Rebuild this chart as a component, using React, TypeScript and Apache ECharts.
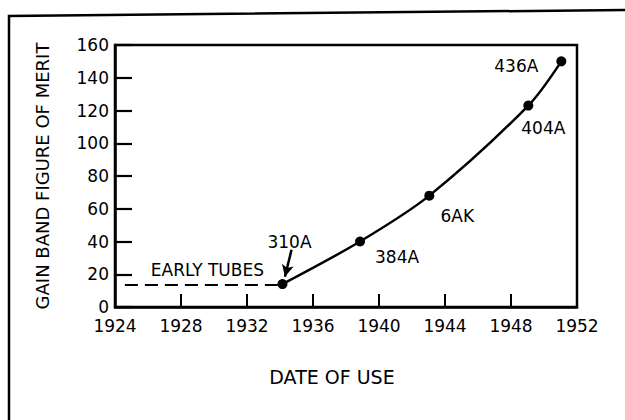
import React, { useEffect, useRef } from "react";
import * as echarts from "echarts";

const years = [1934.15, 1938.85, 1943.05, 1949.05, 1951.05];
const gainBand = [14, 40, 68, 123, 150];
const tubeNames = ["310A", "384A", "6AK", "404A", "436A"];
const labelOffsets: [number, number][] = [
  [7, -42],
  [37, 15],
  [28, 20],
  [15, 22],
  [-45, 5],
];
const earlyYears = [1924.6, 1934.0];
const earlyValue = 13.5;
const earlyLabelPos = [1929.6, 22.6];
const arrowFrom = [1934.7, 35];
const arrowTo = [1934.3, 18.5];

const FONT = "DejaVu Sans";

export default function App() {
  const ref = useRef<HTMLDivElement>(null);
  useEffect(() => {
    const chart = echarts.init(ref.current!, null, { renderer: "svg" });
    chart.setOption({
      animation: false,
      backgroundColor: "#ffffff",
      grid: {
        left: 115,
        right: 48,
        top: 45,
        bottom: 113,
        show: true,
        borderColor: "#000",
        borderWidth: 2.5,
      },
      xAxis: {
        type: "value",
        min: 1924,
        max: 1952,
        interval: 4,
        name: "DATE OF USE",
        nameLocation: "middle",
        nameGap: 60,
        nameTextStyle: {
          fontFamily: FONT,
          fontSize: 19,
          color: "#000",
          padding: [0, 28, 0, 0],
        },
        axisLine: { show: true, lineStyle: { color: "#000", width: 2.5 } },
        axisTick: { show: true, inside: true, length: 13, lineStyle: { color: "#000", width: 2 } },
        axisLabel: {
          fontFamily: FONT,
          fontSize: 17,
          color: "#000",
          margin: 11,
          lineHeight: 16,
          formatter: (v: number) => String(v),
        },
        splitLine: { show: false },
      },
      yAxis: {
        type: "value",
        min: 0,
        max: 160,
        interval: 20,
        name: "GAIN BAND FIGURE OF MERIT",
        nameLocation: "middle",
        nameRotate: 90,
        nameGap: 64,
        nameTextStyle: { fontFamily: FONT, fontSize: 18, color: "#000" },
        axisLine: { show: true, lineStyle: { color: "#000", width: 2.5 } },
        axisTick: { show: true, inside: true, length: 17, lineStyle: { color: "#000", width: 2.2 } },
        axisLabel: {
          fontFamily: FONT,
          fontSize: 17,
          color: "#000",
          margin: 6,
          lineHeight: 13,
          padding: [0, 0, 6, 0],
        },
        splitLine: { show: false },
      },
      graphic: [
        {
          type: "polyline",
          shape: { points: [[9, 420], [9, 16], [625, 10]] },
          style: { stroke: "#000", lineWidth: 2.5, fill: "none" },
          silent: true,
        },
      ],
      series: [
        {
          type: "line",
          data: years.map((y, i) => ({
            value: [y, gainBand[i]],
            label: {
              show: true,
              formatter: tubeNames[i],
              position: "inside",
              offset: labelOffsets[i],
              fontFamily: FONT,
              fontSize: 17,
              color: "#000",
            },
          })),
          smooth: 0.3,
          symbol: "circle",
          symbolSize: 10,
          itemStyle: { color: "#000" },
          lineStyle: { color: "#000", width: 2.5 },
          z: 5,
          markLine: {
            silent: true,
            symbol: ["none", "arrow"],
            symbolSize: [9, 12],
            label: { show: false },
            lineStyle: { color: "#000", width: 2.5, type: "solid" },
            data: [[{ coord: arrowFrom }, { coord: arrowTo }]],
          },
        },
        {
          type: "line",
          data: earlyYears.map((y) => [y, earlyValue]),
          symbol: "none",
          lineStyle: { color: "#000", width: 2, type: [13, 7] },
          z: 3,
          markPoint: {
            silent: true,
            symbol: "circle",
            symbolSize: 1,
            itemStyle: { color: "#fff", opacity: 0 },
            data: [{ coord: earlyLabelPos }],
            label: {
              show: true,
              formatter: "EARLY TUBES",
              position: "inside",
              fontFamily: FONT,
              fontSize: 17,
              color: "#000",
              opacity: 1,
            },
          },
        },
      ],
    });
    return () => chart.dispose();
  }, []);
  return (
    <div
      ref={ref}
      style={{ position: "fixed", left: 0, top: 0, width: 625, height: 420 }}
    />
  );
}
